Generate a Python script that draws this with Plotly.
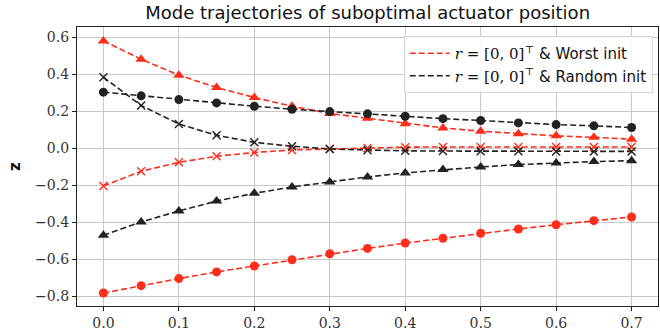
import plotly.graph_objects as go

t = [0.0, 0.05, 0.1, 0.15, 0.2, 0.25, 0.3, 0.35, 0.4, 0.45, 0.5, 0.55, 0.6, 0.65, 0.7]

# Worst init (red)
worst_tri = [0.58, 0.481, 0.395, 0.328, 0.274, 0.227, 0.188, 0.162, 0.133, 0.11, 0.092, 0.079, 0.067, 0.059, 0.049]
worst_x = [-0.204, -0.124, -0.076, -0.043, -0.023, -0.009, -0.004, 0.002, 0.006, 0.007, 0.007, 0.007, 0.007, 0.007, 0.007]
worst_dot = [-0.782, -0.742, -0.704, -0.668, -0.636, -0.602, -0.57, -0.541, -0.512, -0.486, -0.459, -0.436, -0.413, -0.391, -0.371]

# Random init (black)
rand_dot = [0.303, 0.283, 0.263, 0.245, 0.227, 0.211, 0.198, 0.186, 0.173, 0.16, 0.15, 0.137, 0.128, 0.121, 0.112]
rand_x = [0.384, 0.231, 0.131, 0.07, 0.032, 0.011, -0.004, -0.011, -0.014, -0.015, -0.016, -0.016, -0.017, -0.017, -0.017]
rand_tri = [-0.47, -0.398, -0.339, -0.285, -0.243, -0.209, -0.182, -0.155, -0.133, -0.115, -0.101, -0.088, -0.079, -0.072, -0.067]

x_ticks = [0.0, 0.1, 0.2, 0.3, 0.4, 0.5, 0.6, 0.7]
y_ticks = [-0.8, -0.6, -0.4, -0.2, 0.0, 0.2, 0.4, 0.6]

RED = "#ff2d1a"
BLK = "#222222"
SERIF = "DejaVu Serif"

fig = go.Figure()

def add(y, color, symbol, size):
    fig.add_trace(go.Scatter(
        x=t, y=y, mode="lines+markers", showlegend=False,
        line=dict(color=color, width=1.6, dash="6px,3px"),
        marker=dict(color=color, symbol=symbol, size=size, line=dict(width=0)),
    ))

add(worst_tri, RED, "triangle-up", 10)
add(worst_dot, RED, "circle", 9)
add(rand_dot, BLK, "circle", 9)
add(rand_tri, BLK, "triangle-up", 10)
fig.add_trace(go.Scatter(x=t, y=worst_x, mode="lines+markers", showlegend=False,
                         line=dict(color=RED, width=1.6, dash="6px,3px"),
                         marker=dict(color=RED, symbol="x-thin", size=8, line=dict(width=1.4, color=RED))))
fig.add_trace(go.Scatter(x=t, y=rand_x, mode="lines+markers", showlegend=False,
                         line=dict(color=BLK, width=1.6, dash="6px,3px"),
                         marker=dict(color=BLK, symbol="x-thin", size=8, line=dict(width=1.4, color=BLK))))

math = "<span style='font-family:DejaVu Serif'><i>r</i> = [0, 0]<sup>⊤</sup></span>"
# legend entries (lines only)
fig.add_trace(go.Scatter(x=[None], y=[None], mode="lines",
                         name=math + " &amp; Worst init",
                         line=dict(color=RED, width=1.6, dash="6px,3px")))
fig.add_trace(go.Scatter(x=[None], y=[None], mode="lines",
                         name=math + " &amp; Random init",
                         line=dict(color=BLK, width=1.6, dash="6px,3px")))

axis_common = dict(
    showgrid=True, gridcolor="#c8c8c8", gridwidth=1,
    showline=True, linecolor="#222222", linewidth=1.2, mirror=True,
    ticks="outside", ticklen=4, tickcolor="#222222",
    zeroline=False,
    tickfont=dict(family=SERIF, size=14, color="#333333"),
)

fig.update_layout(
    width=660, height=333,
    margin=dict(l=77, r=2, t=27, b=27),
    plot_bgcolor="white", paper_bgcolor="white",
    title=dict(text="Mode trajectories of suboptimal actuator position",
               x=0.557, xanchor="center", y=0.963, yanchor="middle",
               font=dict(family="DejaVu Sans", size=18, color="#111111")),
    xaxis=dict(range=[-0.035, 0.735], tickvals=x_ticks,
               ticktext=[f"{v:.1f}" for v in x_ticks], **axis_common),
    yaxis=dict(range=[-0.852, 0.655], tickvals=y_ticks,
               ticktext=[f"{v:.1f}".replace("-", "−") for v in y_ticks],
               title=dict(text="<b>z</b>", standoff=10,
                          font=dict(family="DejaVu Sans", size=15, color="#111111")),
               **axis_common),
    legend=dict(x=0.991, y=0.968, xanchor="right", yanchor="top",
                bgcolor="rgba(255,255,255,0.85)", bordercolor="#d6d6d6", borderwidth=1,
                font=dict(family="DejaVu Sans", size=15, color="#111111"),
                itemwidth=40, tracegroupgap=2),
)

fig.write_html("out.html")
